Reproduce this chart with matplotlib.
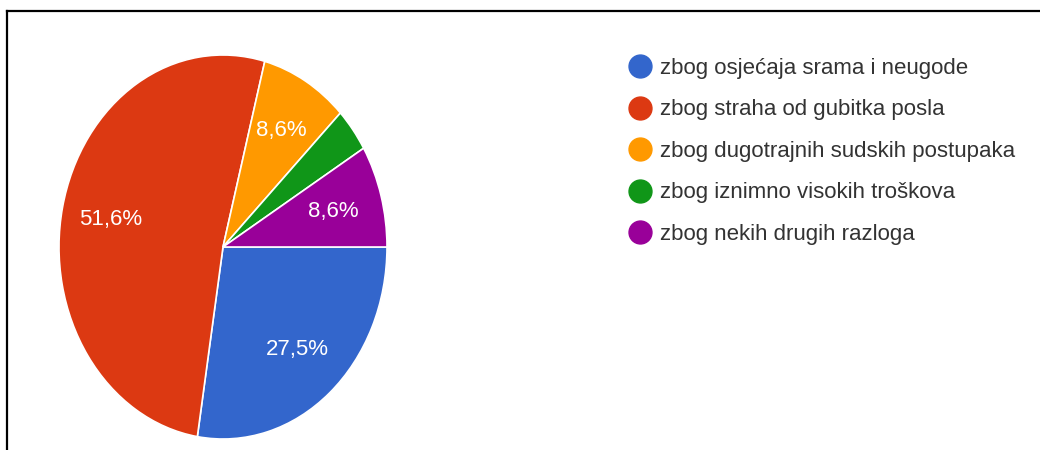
import matplotlib.pyplot as plt
from matplotlib.lines import Line2D

plt.rcParams['font.family'] = ['Liberation Sans', 'DejaVu Sans']

# Data
labels = ['zbog osjećaja srama i neugode', 'zbog straha od gubitka posla',
          'zbog dugotrajnih sudskih postupaka', 'zbog iznimno visokih troškova',
          'zbog nekih drugih razloga']
values = [27.5, 51.6, 8.6, 3.7, 8.6]
colors = ['#3366CC', '#DC3912', '#FF9900', '#109618', '#990099']

W, H = 1040, 450
fig = plt.figure(figsize=(W / 100, H / 100), dpi=100)

# pie area (slightly taller than wide, as in the screenshot)
ax = fig.add_axes([59 / W, (H - 439) / H, 328 / W, 384 / H])


def pct_label(p):
    if p < 5:
        return ''
    return f'{p:.1f}%'.replace('.', ',')


ax.pie(values, colors=colors, startangle=0, counterclock=False,
       autopct=pct_label, pctdistance=0.7, radius=1,
       wedgeprops=dict(edgecolor='white', linewidth=1.2),
       textprops=dict(color='white', fontsize=16))
ax.set_aspect('auto')
ax.set_xlim(-1, 1)
ax.set_ylim(-1, 1)
ax.axis('off')

# legend with round markers
handles = [Line2D([], [], marker='o', linestyle='none', markersize=16.5,
                  markerfacecolor=c, markeredgecolor=c) for c in colors]
fig.legend(handles, labels, loc='upper left',
           bbox_to_anchor=(629 / W, 1 - 58 / H), frameon=False,
           fontsize=16, labelcolor='#333333', handlelength=1.0,
           handletextpad=0.4, labelspacing=0.92, borderpad=0, borderaxespad=0)

# frame lines of the screenshot (top and left only visible)
fig.add_artist(Line2D([7 / W, 1], [1 - 11 / H, 1 - 11 / H], color='black', lw=1.6))
fig.add_artist(Line2D([7 / W, 7 / W], [0, 1 - 11 / H], color='black', lw=1.6))

fig.savefig('out.png', dpi=100, facecolor='white')
